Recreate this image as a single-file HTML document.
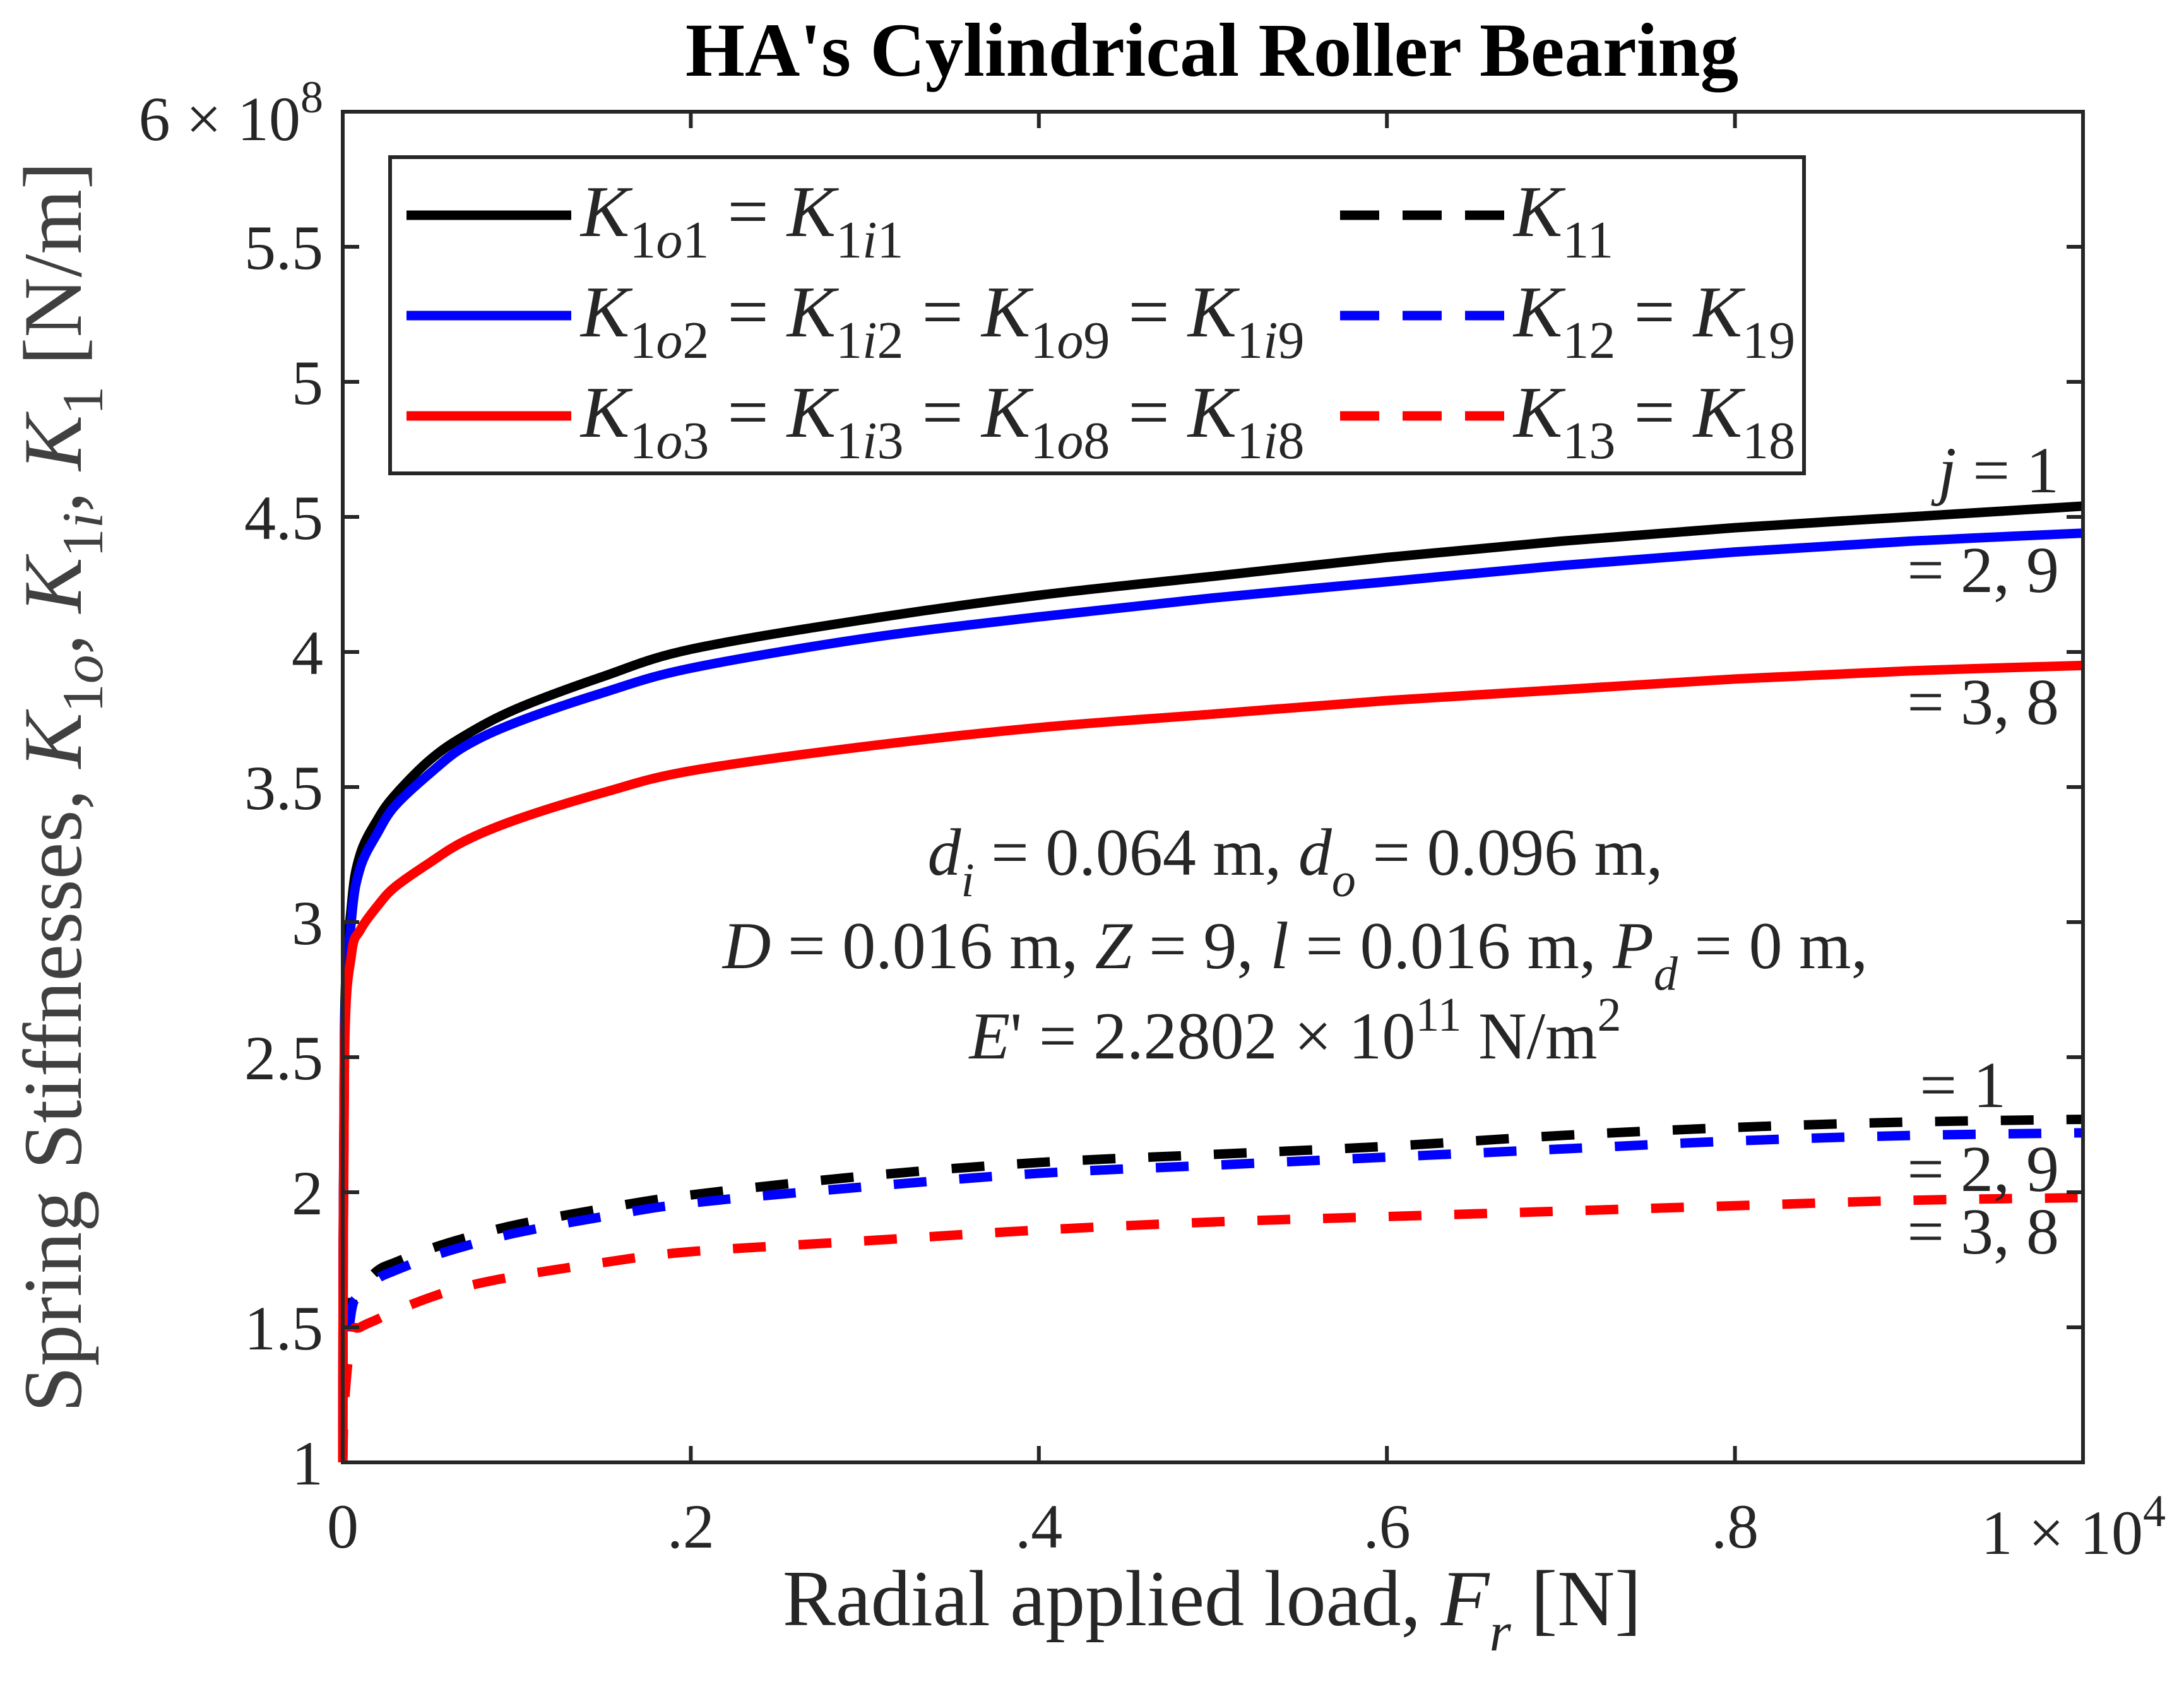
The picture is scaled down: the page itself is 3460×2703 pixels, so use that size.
<!DOCTYPE html>
<html><head><meta charset="utf-8"><style>
html,body{margin:0;padding:0;background:#fff}
svg{display:block}
text{font-family:"Liberation Serif",serif;fill:#262626}
</style></head><body>
<svg id="chart" width="3460" height="2703" viewBox="0 0 3460 2703" xmlns="http://www.w3.org/2000/svg">
<text x="1920" y="120" font-size="121" font-weight="bold" text-anchor="middle" style="fill:#000">HA's Cylindrical Roller Bearing</text>
<g id="marks"></g>
<rect x="543" y="177" width="2757" height="2140" fill="none" stroke="#262626" stroke-width="6"/>
<g id="axes"></g>
<text transform="translate(128,1247) rotate(-90)" font-size="132" text-anchor="middle" style="fill:#404040">Spring Stiffnesses,  <tspan font-style="italic">K</tspan><tspan font-size="92" dy="34">1<tspan font-style="italic">o</tspan></tspan><tspan dy="-34">,  </tspan><tspan font-style="italic">K</tspan><tspan font-size="92" dy="34">1<tspan font-style="italic">i</tspan></tspan><tspan dy="-34">,  </tspan><tspan font-style="italic">K</tspan><tspan font-size="92" dy="34">1</tspan><tspan dy="-34">  [N/m]</tspan></text>
<text x="1920" y="2575" font-size="126" text-anchor="middle">Radial applied load,  <tspan font-style="italic">F</tspan><tspan font-size="88" dy="40" font-style="italic">r</tspan><tspan dy="-40">  [N]</tspan></text>
<text x="512" y="222" font-size="100" text-anchor="end">6 × 10<tspan font-size="72" dy="-44">8</tspan></text>
<text x="3431" y="2462" font-size="100" text-anchor="end">1 × 10<tspan font-size="72" dy="-44">4</tspan></text>
<g>
<rect x="618" y="249" width="2240" height="501" fill="#fff" stroke="#262626" stroke-width="6"/>
<line x1="644" y1="341" x2="905" y2="341" stroke="#000" stroke-width="15"/>
<line x1="644" y1="500" x2="905" y2="500" stroke="#00f" stroke-width="15"/>
<line x1="644" y1="659" x2="905" y2="659" stroke="#f00" stroke-width="15"/>
<line x1="2123" y1="341" x2="2383" y2="341" stroke="#000" stroke-width="15" stroke-dasharray="62 37"/>
<line x1="2123" y1="500" x2="2383" y2="500" stroke="#00f" stroke-width="15" stroke-dasharray="62 37"/>
<line x1="2123" y1="659" x2="2383" y2="659" stroke="#f00" stroke-width="15" stroke-dasharray="62 37"/>
<g font-size="116" style="fill:#000">
<text x="920" y="374"><tspan font-style="italic">K</tspan><tspan font-size="84" dy="34">1<tspan font-style="italic">o</tspan>1</tspan><tspan dy="-34"> = </tspan><tspan font-style="italic">K</tspan><tspan font-size="84" dy="34">1<tspan font-style="italic">i</tspan>1</tspan></text>
<text x="920" y="533"><tspan font-style="italic">K</tspan><tspan font-size="84" dy="34">1<tspan font-style="italic">o</tspan>2</tspan><tspan dy="-34"> = </tspan><tspan font-style="italic">K</tspan><tspan font-size="84" dy="34">1<tspan font-style="italic">i</tspan>2</tspan><tspan dy="-34"> = </tspan><tspan font-style="italic">K</tspan><tspan font-size="84" dy="34">1<tspan font-style="italic">o</tspan>9</tspan><tspan dy="-34"> = </tspan><tspan font-style="italic">K</tspan><tspan font-size="84" dy="34">1<tspan font-style="italic">i</tspan>9</tspan></text>
<text x="920" y="692"><tspan font-style="italic">K</tspan><tspan font-size="84" dy="34">1<tspan font-style="italic">o</tspan>3</tspan><tspan dy="-34"> = </tspan><tspan font-style="italic">K</tspan><tspan font-size="84" dy="34">1<tspan font-style="italic">i</tspan>3</tspan><tspan dy="-34"> = </tspan><tspan font-style="italic">K</tspan><tspan font-size="84" dy="34">1<tspan font-style="italic">o</tspan>8</tspan><tspan dy="-34"> = </tspan><tspan font-style="italic">K</tspan><tspan font-size="84" dy="34">1<tspan font-style="italic">i</tspan>8</tspan></text>
<text x="2398" y="374"><tspan font-style="italic">K</tspan><tspan font-size="84" dy="34">11</tspan></text>
<text x="2398" y="533"><tspan font-style="italic">K</tspan><tspan font-size="84" dy="34">12</tspan><tspan dy="-34"> = </tspan><tspan font-style="italic">K</tspan><tspan font-size="84" dy="34">19</tspan></text>
<text x="2398" y="692"><tspan font-style="italic">K</tspan><tspan font-size="84" dy="34">13</tspan><tspan dy="-34"> = </tspan><tspan font-style="italic">K</tspan><tspan font-size="84" dy="34">18</tspan></text>
</g>
</g>
<g font-size="104" style="fill:#000">
<text x="3262" y="780" text-anchor="end"><tspan font-style="italic">j</tspan> = 1</text>
<text x="3262" y="938" text-anchor="end">= 2, 9</text>
<text x="3262" y="1147" text-anchor="end">= 3, 8</text>
<text x="3178" y="1754" text-anchor="end">= 1</text>
<text x="3262" y="1887" text-anchor="end">= 2, 9</text>
<text x="3262" y="1986" text-anchor="end">= 3, 8</text>
</g>
<g font-size="106" style="fill:#000">
<text x="2052" y="1386" text-anchor="middle"><tspan font-style="italic">d</tspan><tspan font-size="76" dy="34" font-style="italic">i</tspan><tspan dy="-34"> = 0.064 m, </tspan><tspan font-style="italic">d</tspan><tspan font-size="76" dy="34" font-style="italic">o</tspan><tspan dy="-34"> = 0.096 m,</tspan></text>
<text x="2052" y="1534" text-anchor="middle"><tspan font-style="italic">D</tspan> = 0.016 m, <tspan font-style="italic">Z</tspan> = 9, <tspan font-style="italic">l</tspan> = 0.016 m, <tspan font-style="italic">P</tspan><tspan font-size="76" dy="34" font-style="italic">d</tspan><tspan dy="-34"> = 0 m,</tspan></text>
<text x="2052" y="1677" text-anchor="middle"><tspan font-style="italic">E</tspan>' = 2.2802 × 10<tspan font-size="76" dy="-44">11</tspan><tspan dy="44"> N/m</tspan><tspan font-size="76" dy="-44">2</tspan></text>
</g>
</svg>
<script>
const loads = [0, 10, 50, 100, 200, 300, 500, 700, 1000, 1500, 2000, 3000, 4000, 5000, 6000, 7000, 8000, 9000, 10000];
const k1o1 = [1, 2.6, 3.06, 3.25, 3.38, 3.47, 3.6, 3.69, 3.79, 3.91, 4.01, 4.12, 4.21, 4.28, 4.35, 4.41, 4.46, 4.50, 4.54];
const k1o2 = [1, 2.55, 3.01, 3.2, 3.33, 3.43, 3.55, 3.65, 3.74, 3.85, 3.94, 4.05, 4.13, 4.20, 4.26, 4.32, 4.37, 4.41, 4.44];
const k1o3 = [1, 2.5, 2.88, 2.97, 3.06, 3.13, 3.22, 3.30, 3.38, 3.48, 3.56, 3.65, 3.72, 3.77, 3.82, 3.86, 3.90, 3.93, 3.95];
const k11 = [1, 1.3, 1.58, 1.64, 1.71, 1.74, 1.79, 1.83, 1.88, 1.94, 1.99, 2.06, 2.11, 2.14, 2.17, 2.21, 2.24, 2.26, 2.27];
const k12 = [1, 1.28, 1.56, 1.62, 1.68, 1.71, 1.76, 1.80, 1.85, 1.91, 1.96, 2.02, 2.07, 2.10, 2.13, 2.16, 2.19, 2.21, 2.22];
const k13 = [1, 1.22, 1.47, 1.50, 1.53, 1.56, 1.61, 1.65, 1.69, 1.74, 1.78, 1.82, 1.86, 1.89, 1.91, 1.93, 1.95, 1.97, 1.98];
const xTicks = [0, 2000, 4000, 6000, 8000, 10000];
const xTickLabels = ["0", ".2", ".4", ".6", ".8", ""];
const yTicks = [1, 1.5, 2, 2.5, 3, 3.5, 4, 4.5, 5, 5.5, 6];
const yTickLabels = ["1", "1.5", "2", "2.5", "3", "3.5", "4", "4.5", "5", "5.5", ""];

const L = 543, R = 3300, T = 177, B = 2317;
const xs = v => L + (v - 0) / 10000 * (R - L);
const ys = v => B - (v - 1) / 5 * (B - T);
const NS = "http://www.w3.org/2000/svg";
const marks = document.getElementById('marks');
const axes = document.getElementById('axes');

function series(vals, color, dashed, name) {
  const pts = loads.map((x, i) => [xs(x), ys(vals[i])]);
  let d = 'M' + pts[0][0] + ',' + pts[0][1];
  for (let i = 0; i < pts.length - 1; i++) {
    const p0 = pts[Math.max(0, i - 1)], p1 = pts[i], p2 = pts[i + 1], p3 = pts[Math.min(pts.length - 1, i + 2)];
    const c1x = p1[0] + (p2[0] - p0[0]) / 6, c1y = p1[1] + (p2[1] - p0[1]) / 6;
    const c2x = p2[0] - (p3[0] - p1[0]) / 6, c2y = p2[1] - (p3[1] - p1[1]) / 6;
    d += ' C' + Math.max(L, c1x) + ',' + c1y + ' ' + Math.max(L, c2x) + ',' + c2y + ' ' + p2[0] + ',' + p2[1];
  }
  const p = document.createElementNS(NS, 'path');
  p.setAttribute('d', d);
  p.setAttribute('fill', 'none');
  p.setAttribute('stroke', color);
  p.setAttribute('stroke-width', '15');
  p.setAttribute('stroke-linejoin', 'round');
  if (dashed) p.setAttribute('stroke-dasharray', '52 52');
  
  
  marks.appendChild(p);
}
series(k11, '#000', true, 'series-k11');
series(k12, '#00f', true, 'series-k12');
series(k13, '#f00', true, 'series-k13');
series(k1o1, '#000', false, 'series-k1o1');
series(k1o2, '#00f', false, 'series-k1o2');
series(k1o3, '#f00', false, 'series-k1o3');

xTicks.forEach((v, i) => {
  const x = xs(v);
  [[B, B - 26], [T, T + 26]].forEach(([a, b]) => {
    const t = document.createElementNS(NS, 'line');
    t.setAttribute('x1', x); t.setAttribute('x2', x);
    t.setAttribute('y1', a); t.setAttribute('y2', b);
    t.setAttribute('stroke', '#262626'); t.setAttribute('stroke-width', '6');
    
    
    axes.appendChild(t);
  });
  if (xTickLabels[i]) {
    const tx = document.createElementNS(NS, 'text');
    tx.setAttribute('x', x); tx.setAttribute('y', 2452);
    tx.setAttribute('font-size', '100'); tx.setAttribute('text-anchor', 'middle');
    tx.textContent = xTickLabels[i];
    
    
    axes.appendChild(tx);
  }
});
yTicks.forEach((v, i) => {
  const y = ys(v);
  [[L, L + 26], [R, R - 26]].forEach(([a, b]) => {
    const t = document.createElementNS(NS, 'line');
    t.setAttribute('x1', a); t.setAttribute('x2', b);
    t.setAttribute('y1', y); t.setAttribute('y2', y);
    t.setAttribute('stroke', '#262626'); t.setAttribute('stroke-width', '6');
    
    
    axes.appendChild(t);
  });
  if (yTickLabels[i]) {
    const tx = document.createElementNS(NS, 'text');
    tx.setAttribute('x', 512); tx.setAttribute('y', y + 35);
    tx.setAttribute('font-size', '100'); tx.setAttribute('text-anchor', 'end');
    tx.textContent = yTickLabels[i];
    
    
    axes.appendChild(tx);
  }
});
</script>
</body></html>
